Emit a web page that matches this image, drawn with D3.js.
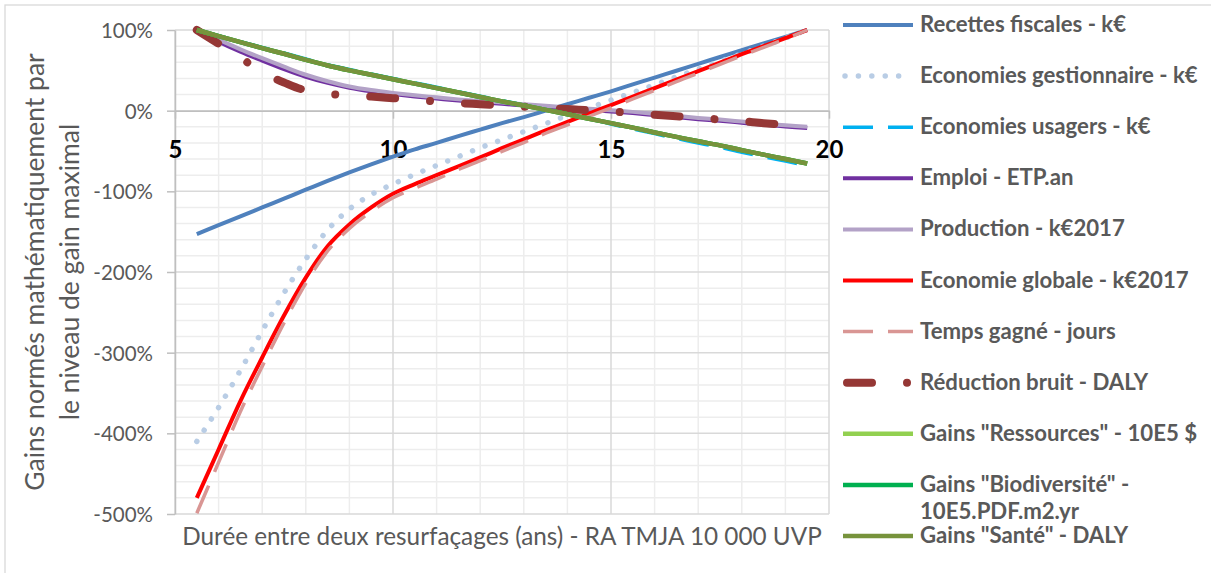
<!DOCTYPE html>
<html><head><meta charset="utf-8">
<script src="https://cdn.jsdelivr.net/npm/d3@7"></script>
<style>
body{margin:0;background:#fff}
svg{display:block}
text{font-family:Lato,"Open Sans",sans-serif}
</style>
</head><body>
<svg id="c" width="1211" height="573"></svg>
<script>
// ---- data ----
const years = [5.5,6,6.5,7,7.5,8,8.5,9,9.5,10,10.5,11,11.5,12,12.5,13,13.5,14,14.5,15,15.5,16,16.5,17,17.5,18,18.5,19,19.5];
const recettesFiscales = [-153,-142,-131,-120,-109,-98,-87,-76.5,-66.5,-57,-48,-40,-31.5,-23.5,-15.5,-8,0,8,16,24,32.5,41,49.5,58,66.5,75,83.5,91.5,100];
const ecoGestionnaire = [-410,-368,-322,-273,-226,-184,-148,-122,-104,-91,-79,-68,-57,-46,-36,-26,-16,-6,3.5,13,22.5,32,42,51.5,61,70.5,80,90,100];
const ecoUsagers = [100,93,85.5,78.5,71.5,64,57,51,45.5,40,34.5,29,23.5,18,12.5,7,1.5,-4,-10,-16.5,-22.5,-28.5,-34.5,-40,-45.5,-51.5,-57,-62.5,-68];
const emploi = [100,85.5,73,62,51.5,42,34.5,28.5,24,20.5,17.5,15,12.5,10.5,8.5,6.5,4.5,2.5,1,-1,-3,-5.5,-8,-10.5,-12.5,-15,-17.5,-19.5,-21.5];
const production = [100,88,76,65,54.5,44.5,36.5,30,25.5,22,19,16.5,14,12,10,8,6,4,2.5,0.5,-1.5,-4,-6.5,-9,-11,-13.5,-16,-18,-20];
const ecoGlobale = [-480,-420,-360,-306,-254,-207,-168,-141,-120,-103,-91,-80,-69,-58,-46.5,-35.5,-24.5,-14,-3.5,7,17.5,28,38.5,49,59.5,70,80,90,100];
const tempsGagne = [-499,-436,-373,-317,-263,-214,-174,-146,-125,-108,-96,-85,-73,-62,-50.5,-39.5,-28,-17.5,-7,3.5,14.5,25,36,46.5,57.5,68,78.5,89,100];
const reductionBruit = [100,83,66,47,35,25,21,19,17.5,15.5,13.5,11.5,9.5,8,6.5,5,3.5,2,0.5,-1,-3,-5,-7,-9,-11,-13,-15.5,-17.5,-19.5];
const gainsRessources = [100,92.5,85,77.5,70.5,63,56,50,44.5,39,33.5,28,22.5,17,11.5,6.5,1,-4.5,-10,-15.5,-21,-27,-32.5,-38,-43,-49,-54.5,-60,-65.5];
const gainsBiodiversite = [100,92.5,85,77.5,70.5,63,56,50,44.5,39,33.5,28,22.5,17,11.5,6.5,1,-4.5,-10,-15.5,-21,-27,-32.5,-38,-43,-49,-54.5,-60,-65.5];
const gainsSante = [100,92.5,85,77.5,70.5,63,56,50,44.5,39,33.5,28,22.5,17,11.5,6.5,1,-4.5,-10,-15.5,-21,-27,-32.5,-38,-43,-49,-54.5,-60,-65.5];
const seriesNames = ["Recettes fiscales - k€","Economies gestionnaire - k€","Economies usagers - k€","Emploi - ETP.an","Production - k€2017","Economie globale - k€2017","Temps gagné - jours","Réduction bruit - DALY","Gains \"Ressources\" - 10E5 $","Gains \"Biodiversité\" -|10E5.PDF.m2.yr","Gains \"Santé\" - DALY"];
const xTicks = [5,10,15,20];
const yTicks = [100,0,-100,-200,-300,-400,-500];
const xTitle = "Durée entre deux resurfaçages (ans) - RA TMJA 10 000 UVP";
const yTitleLines = ["Gains normés mathématiquement par","le niveau de gain maximal"];

// ---- styles ----
const seriesValues = [recettesFiscales,ecoGestionnaire,ecoUsagers,emploi,production,ecoGlobale,tempsGagne,reductionBruit,gainsRessources,gainsBiodiversite,gainsSante];
const styles = [
  {c:"#4F81BD",w:4},
  {c:"#B9CDE5",w:5.5,d:"0.01,13.4",cap:"round"},
  {c:"#00B0F0",w:3.5,d:"30,15"},
  {c:"#7030A0",w:4},
  {c:"#B3A2C7",w:4},
  {c:"#FF0000",w:4},
  {c:"#D99694",w:3.5,d:"30,15"},
  {c:"#953735",w:8,d:"25,35,0.01,35",cap:"round"},
  {c:"#92D050",w:4.5},
  {c:"#00B050",w:4.5},
  {c:"#77933C",w:4.5}
];

const svg = d3.select("#c");
svg.append("rect").attr("x",5).attr("y",5).attr("width",1240).attr("height",620)
  .attr("fill","#fff").attr("stroke","#D9D9D9").attr("stroke-width",1.3);

const x = d3.scaleLinear().domain([5,20]).range([175,829]);
const y = d3.scaleLinear().domain([-500,100]).range([514,30]);

// grid
const g = svg.append("g");
d3.range(6,20).filter(v=>v%5!==0).forEach(v=>{
  g.append("line").attr("x1",x(v)).attr("x2",x(v)).attr("y1",y(100)).attr("y2",y(-500)).attr("stroke","#EDEDED").attr("stroke-width",1.5);
});
d3.range(-480,100,20).filter(v=>v%100!==0).forEach(v=>{
  g.append("line").attr("x1",x(5)).attr("x2",x(20)).attr("y1",y(v)).attr("y2",y(v)).attr("stroke","#EDEDED").attr("stroke-width",1.5);
});
yTicks.forEach(v=>{
  g.append("line").attr("x1",x(5)).attr("x2",x(20)).attr("y1",y(v)).attr("y2",y(v)).attr("stroke","#D9D9D9").attr("stroke-width",1.5);
});
xTicks.forEach(v=>{
  g.append("line").attr("x1",x(v)).attr("x2",x(v)).attr("y1",y(100)).attr("y2",y(-500)).attr("stroke","#D9D9D9").attr("stroke-width",1.5);
});

// axes
const yAxis = svg.append("g").attr("transform",`translate(${x(5)},0)`)
  .call(d3.axisLeft(y).tickValues(yTicks).tickFormat(d=>d+"%").tickSize(8).tickSizeOuter(0).tickPadding(14));
yAxis.select(".domain").attr("stroke","#BFBFBF").attr("stroke-width",1.5);
yAxis.selectAll(".tick line").attr("stroke","#BFBFBF").attr("stroke-width",1.5);
yAxis.selectAll(".tick text").attr("fill","#595959").attr("font-size",20.5).attr("font-family","Lato").attr("dy","0.36em");

const xAxis = svg.append("g").attr("transform",`translate(0,${y(0)})`)
  .call(d3.axisBottom(x).tickValues(xTicks).tickFormat(d=>d).tickSize(8).tickSizeOuter(0));
xAxis.select(".domain").attr("stroke","#BFBFBF").attr("stroke-width",1.5);
xAxis.selectAll(".tick line").attr("stroke","#BFBFBF").attr("stroke-width",1.5);
xAxis.selectAll(".tick text").attr("fill","#000").attr("font-size",24).attr("font-weight","bold")
  .attr("font-family","Lato").attr("y",47).attr("dy",null);

// series
const line = d3.line().x((d,i)=>x(years[i])).y(d=>y(d)).curve(d3.curveMonotoneX);
const plot = svg.append("g");
seriesValues.forEach((vals,i)=>{
  const s = styles[i];
  plot.append("path").attr("d",line(vals)).attr("fill","none").attr("stroke",s.c)
    .attr("stroke-width",s.w).attr("stroke-dasharray",s.d||null)
    .attr("stroke-linecap",s.cap||"butt").attr("stroke-linejoin","round");
});

// titles
svg.append("text").attr("x",502).attr("y",545).attr("text-anchor","middle")
  .attr("fill","#595959").attr("font-size",24.3).text(xTitle);
yTitleLines.forEach((t,i)=>{
  svg.append("text").attr("transform",`translate(${44+i*35},272) rotate(-90)`).attr("text-anchor","middle")
    .attr("fill","#595959").attr("font-size",26.5).text(t);
});

// legend
const leg = svg.append("g");
seriesNames.forEach((name,i)=>{
  const s = styles[i];
  const ly = 25 + i*51.1;
  let x1 = 843, x2 = 913;
  if (i===1){x1=845;x2=905;}
  if (i===7){x1=847;x2=912;}
  leg.append("line").attr("x1",x1).attr("x2",x2).attr("y1",ly).attr("y2",ly)
    .attr("stroke",s.c).attr("stroke-width",s.w).attr("stroke-dasharray",s.d||null)
    .attr("stroke-linecap",s.cap||"butt");
  const parts = name.split("|");
  parts.forEach((p,k)=>{
    leg.append("text").attr("x",920).attr("y",ly+7+k*27).attr("fill","#595959")
      .attr("font-size",22.2).attr("font-weight","bold").text(p);
  });
});
</script>
</body></html>
